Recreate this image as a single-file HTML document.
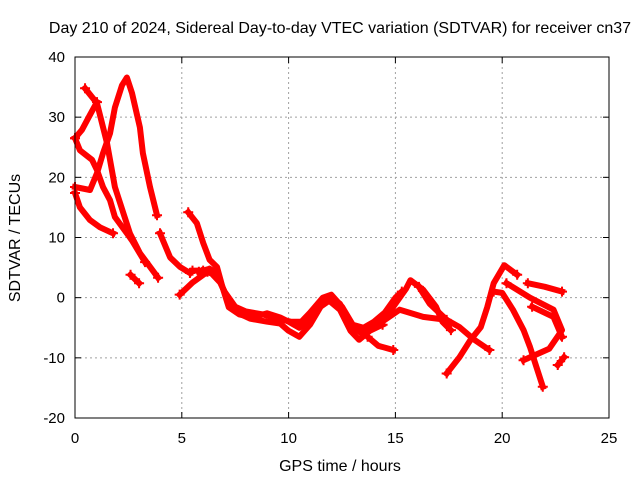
<!DOCTYPE html>
<html><head><meta charset="utf-8"><style>
body{margin:0;background:#fff}
svg{display:block;font-family:"Liberation Sans",Arial,sans-serif}
</style></head><body>
<svg id="chart" width="640" height="480" viewBox="0 0 640 480">
<rect width="640" height="480" fill="#fff"/>
<g id="grid"></g>
<g id="series"></g>
<rect x="75" y="57" width="534" height="361" fill="none" stroke="#000" stroke-width="1"/>
<g id="ticks"></g>
<text x="340" y="33" font-size="16" text-anchor="middle">Day 210 of 2024, Sidereal Day-to-day VTEC variation (SDTVAR) for receiver cn37</text>
<text x="340" y="471" font-size="16" text-anchor="middle">GPS time / hours</text>
<text transform="translate(20,238) rotate(-90)" font-size="16" text-anchor="middle">SDTVAR / TECUs</text>
</svg>
<script>
const xTicks=[0,5,10,15,20,25];
const yTicks=[-20,-10,0,10,20,30,40];
const t1h=[0.47,1.03,1.5,1.87,2.57,3.04,3.89];
const t1v=[34.8,32.3,25.7,18.4,10.7,7.4,3.3];
const t2h=[0,0.23,0.8,1.03,1.31,1.64,1.87,2.43,2.67,3.28];
const t2v=[26.5,24.5,22.9,21.2,18.4,16.2,13.4,10.7,9.5,5.9];
const t3h=[0,0.33,0.7,1.03];
const t3v=[26.5,27.9,30.4,32.5];
const t4h=[0,0.7,1.03,1.31,1.64,1.87,2.2,2.43,2.67,3.04,3.18,3.51,3.84];
const t4v=[18.4,17.9,20.7,24,27.3,31.6,35.3,36.6,34,28.3,24,18.4,13.7];
const t5h=[0,0.23,0.7,1.17,1.78];
const t5v=[17.4,15,12.9,11.7,10.7];
const t6h=[2.6,3.0];
const t6v=[3.8,2.4];
const t7h=[3.98,4.45,4.92,5.38];
const t7v=[10.7,6.7,5.1,4.1];
const t8h=[4.9,5.5,6.2];
const t8v=[0.5,2.5,4.3];
const t9h=[5.5,6.3];
const t9v=[4.5,4.5];
const bAh=[5.3,5.7,6.0,6.3,6.65,6.9,7.2,7.7,8.3,9.0,9.6,10.0,10.5,11.0,11.5,11.9,12.4,12.9,13.4,13.9,14.5,15.0,15.5,15.7,16.3,16.9,17.2,17.6];
const bAv=[14.2,12.4,9.1,6.3,5.1,1.8,-1.6,-2.8,-3.3,-2.6,-3.3,-4.0,-5.0,-3.8,-1.0,0.2,-1.0,-4.5,-5.9,-5.0,-3.5,-1.0,1.5,2.9,1.3,-1.5,-4,-5.4];
const bBh=[6.0,6.4,6.8,7.2,7.6,8.2,9.0,9.6,10.0,10.5,11.0,11.5,11.9,12.4,12.9,13.3,13.8,14.4];
const bBv=[4.5,4.0,2.5,-0.5,-2.5,-3.5,-4.0,-4.3,-5.5,-6.5,-4.5,-1.5,-0.5,-2,-5.5,-7,-5.5,-4.5];
const bCh=[5.8,6.3,6.6,7.0,7.5,8.0,8.8,9.5,10.1,10.6,11.0,11.6,12.0,12.5,13.0,13.5,14.0,14.5,15.0,15.3];
const bCv=[4.3,4.8,4.2,1.0,-1.5,-2.3,-2.8,-3.5,-4.0,-4.0,-2.5,0,0.5,-1.5,-4.5,-5,-4,-2.5,0,1.0];
const brh=[13.7,14.2,14.9];
const brv=[-6.5,-8,-8.7];
const r1h=[14.3,15.2,16.3,17.4,18.0,18.7,19.4];
const r1v=[-4.2,-2,-3.2,-3.7,-4.9,-7,-8.7];
const r2h=[16.1,16.6,17.4];
const r2v=[1.8,-1,-3.7];
const r3h=[17.4,18.0,18.5,19.0,19.3,19.6,20.1,20.7];
const r3v=[-12.6,-9.9,-7.1,-4.9,-1.6,2.4,5.4,3.8];
const r4h=[19.6,20.0,20.5,21.0,21.3,21.6,21.9];
const r4v=[1,0.8,-2,-5.4,-8.2,-11.5,-14.8];
const r5h=[20.2,21.3,22.4,22.8,22.2,21.0];
const r5v=[2.4,0,-2,-5.4,-8.5,-10.4];
const r6h=[21.2,22.0,22.8];
const r6v=[2.4,1.8,1.0];
const r7h=[21.4,22.4,22.8];
const r7v=[-1.5,-3.2,-6.5];
const r8h=[22.6,22.9];
const r8v=[-11.2,-9.9];
const tracks=[[t1h,t1v],[t2h,t2v],[t3h,t3v],[t4h,t4v],[t5h,t5v],[t6h,t6v],[t7h,t7v],[t8h,t8v],[t9h,t9v],[bAh,bAv],[bBh,bBv],[bCh,bCv],[brh,brv],[r1h,r1v],[r2h,r2v],[r3h,r3v],[r4h,r4v],[r5h,r5v],[r6h,r6v],[r7h,r7v],[r8h,r8v]];
const X0=75,X1=609,Y0=418,Y1=57,XMIN=0,XMAX=25,YMIN=-20,YMAX=40;
const xs=h=>X0+(h-XMIN)/(XMAX-XMIN)*(X1-X0);
const ys=v=>Y0-(v-YMIN)/(YMAX-YMIN)*(Y0-Y1);
const NS='http://www.w3.org/2000/svg';
function mk(tag,attrs,parent){const e=document.createElementNS(NS,tag);for(const k in attrs)e.setAttribute(k,attrs[k]);parent.appendChild(e);return e;}
const grid=document.getElementById('grid'),ticks=document.getElementById('ticks'),series=document.getElementById('series');
xTicks.forEach(t=>{const x=xs(t);
 if(t>XMIN&&t<XMAX){const g=mk('line',{x1:x,x2:x,y1:Y1,y2:Y0,stroke:'#a0a0a0','stroke-dasharray':'2,3'},grid);
 
 }
 const l=mk('line',{x1:x,x2:x,y1:Y0,y2:Y0-6,stroke:'#000'},ticks);
 
 
 const l2=mk('line',{x1:x,x2:x,y1:Y1,y2:Y1+6,stroke:'#000'},ticks);
 
 
 const tx=mk('text',{x:x,y:Y0+25,'font-size':15,'text-anchor':'middle'},ticks);tx.textContent=t;
 
 });
yTicks.forEach(t=>{const y=ys(t);
 if(t>YMIN&&t<YMAX){const g=mk('line',{x1:X0,x2:X1,y1:y,y2:y,stroke:'#a0a0a0','stroke-dasharray':'2,3'},grid);
 
 }
 const l=mk('line',{x1:X0,x2:X0+6,y1:y,y2:y,stroke:'#000'},ticks);
 
 
 const l2=mk('line',{x1:X1,x2:X1-6,y1:y,y2:y,stroke:'#000'},ticks);
 
 
 const tx=mk('text',{x:X0-10,y:y+5,'font-size':15,'text-anchor':'end'},ticks);tx.textContent=t;
 
 });
tracks.forEach(([hs,vs])=>{
 const pts=hs.map((h,i)=>xs(h).toFixed(1)+','+ys(vs[i]).toFixed(1)).join(' ');
 const p=mk('polyline',{points:pts,fill:'none',stroke:'#ff0000','stroke-width':6,'stroke-linejoin':'round','stroke-linecap':'square'},series);
 
 
 [0,hs.length-1].forEach(i=>{const x=xs(hs[i]),y=ys(vs[i]);
  const m=mk('path',{d:`M${x-5},${y}h10M${x},${y-5}v10`,stroke:'#ff0000','stroke-width':2},series);
  
  });
});
</script>
</body></html>
